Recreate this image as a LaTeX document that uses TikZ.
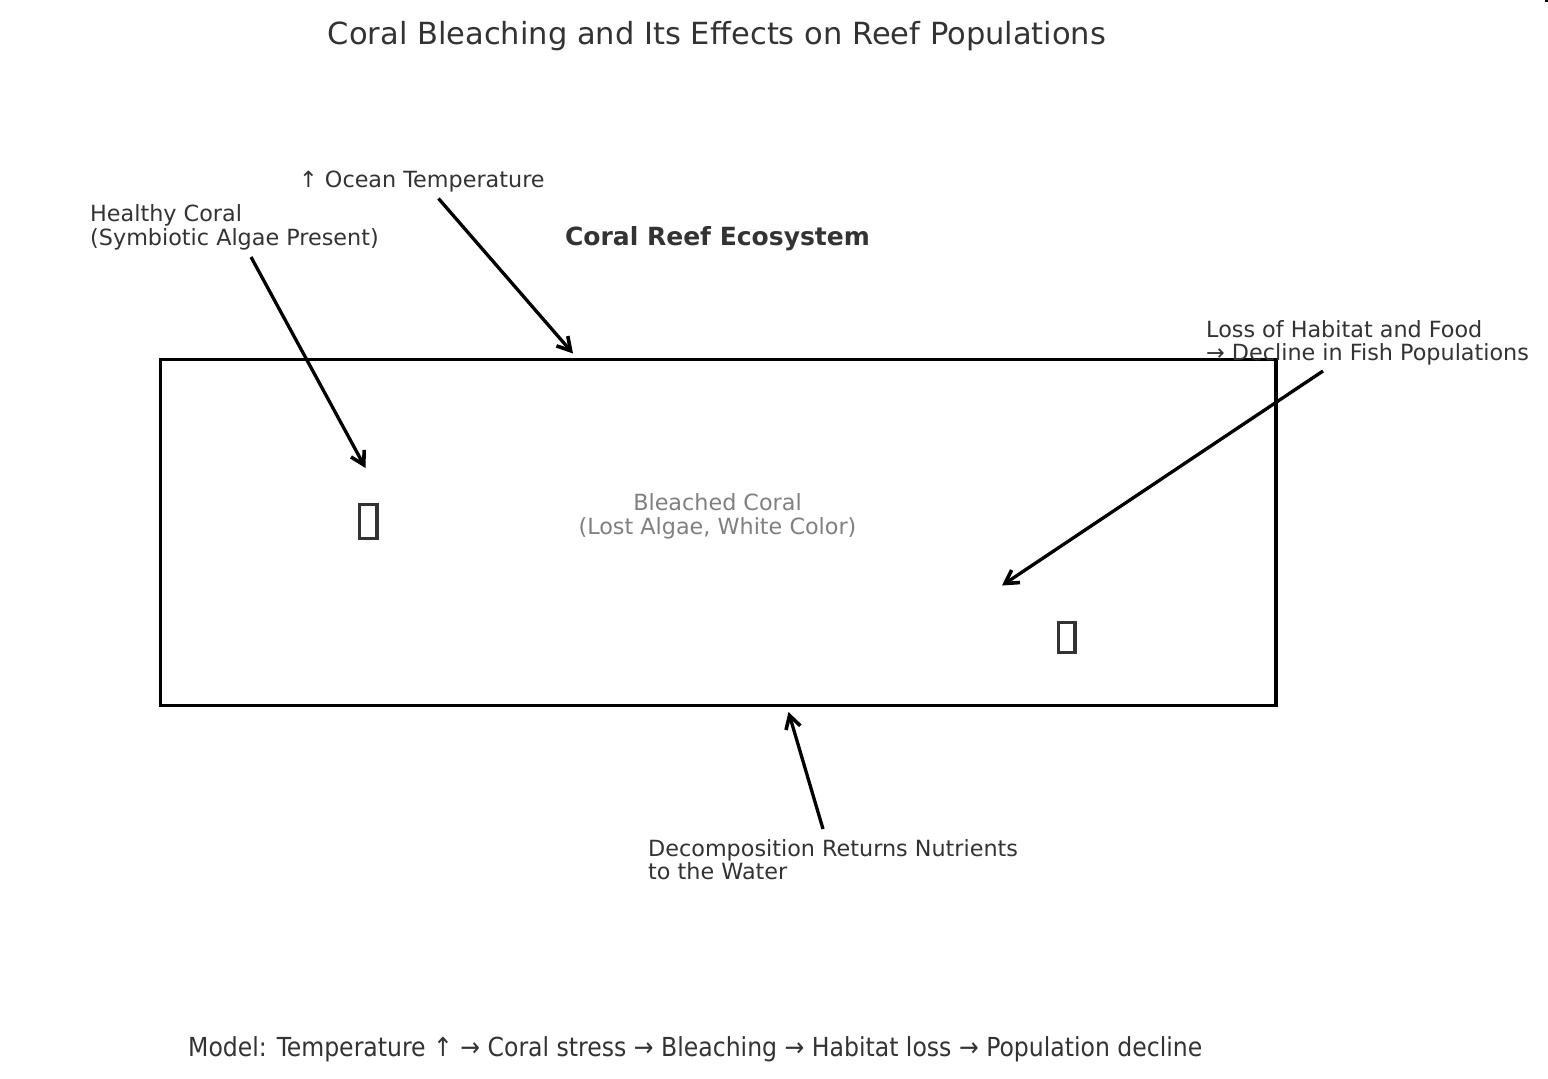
\documentclass[tikz,border=0pt]{standalone}
\usepackage{fontspec}
\setmainfont{DejaVu Sans}[RawFeature={-liga}]
\newfontfamily\condfont{DejaVu Sans Condensed}
\usetikzlibrary{arrows.meta}
\definecolor{ink}{HTML}{333333}
\tikzset{
  lbl/.style={inner sep=0pt,text=ink,font=\fontsize{22.3}{23.6}\selectfont},
  lblleft/.style={lbl,align=left,anchor=north west},
  lblmid/.style={lbl,align=center},
  conn/.style={draw=black,line width=3.3pt,-{Straight Barb[length=13pt,width=15pt,line width=3.6pt]}},
  tofu/.style={draw=ink,line width=3.4pt,fill=white,inner sep=0pt},
}
\begin{document}
\begin{tikzpicture}[x=1pt,y=-1pt]
\useasboundingbox (0,0) rectangle (1548,1079);
\fill[white] (0,0) rectangle (1548,1079);
\fill[black] (1545,0) rectangle (1548,1.5);
\node[lbl,font=\fontsize{30.5}{32}\selectfont,anchor=base] (title) at (717,44) {Coral Bleaching and Its Effects on Reef Populations};
\draw[draw=black,line width=3.2pt] (160.3,359.5) rectangle (1276,705.5);
\node[lbl,font=\fontsize{25}{26}\bfseries\selectfont,anchor=base] (eco) at (717.5,245) {Coral Reef Ecosystem};
\node[lblleft,anchor=base west] (temp) at (299,187) {↑ Ocean Temperature};
\node[lblleft] (healthy) at (90,204.5) {Healthy Coral\\(Symbiotic Algae Present)};
\node[lblleft] (loss) at (1206,320) {Loss of Habitat and Food\\→ Decline in Fish Populations};
\node[lblmid,text=gray] (bleached) at (717.5,516.5) {Bleached Coral\\(Lost Algae, White Color)};
\node[lblleft] (decomp) at (648,839) {Decomposition Returns Nutrients\\to the Water};
\node[lbl,font=\condfont\fontsize{26.2}{27}\selectfont,anchor=base west] (model) at (188,1056) {Model: Temperature ↑ → Coral stress → Bleaching → Habitat loss → Population decline};
\node[tofu,minimum width=17.5pt,minimum height=34pt] (coral) at (368.3,521.5) {};
\node[tofu,minimum width=16.6pt,minimum height=30pt] (fish) at (1066.7,637.5) {};
\coordinate (a1s) at (251,257); \coordinate (a1e) at (365.5,468);
\coordinate (a2s) at (438.5,198.5); \coordinate (a2e) at (573,353.5);
\coordinate (a3s) at (1323,371); \coordinate (a3e) at (1002,585.5);
\coordinate (a4s) at (823,829); \coordinate (a4e) at (788.5,712);
\draw[conn] (a1s) -- (a1e);
\draw[conn] (a2s) -- (a2e);
\draw[conn] (a3s) -- (a3e);
\draw[conn] (a4s) -- (a4e);
\end{tikzpicture}
\end{document}
